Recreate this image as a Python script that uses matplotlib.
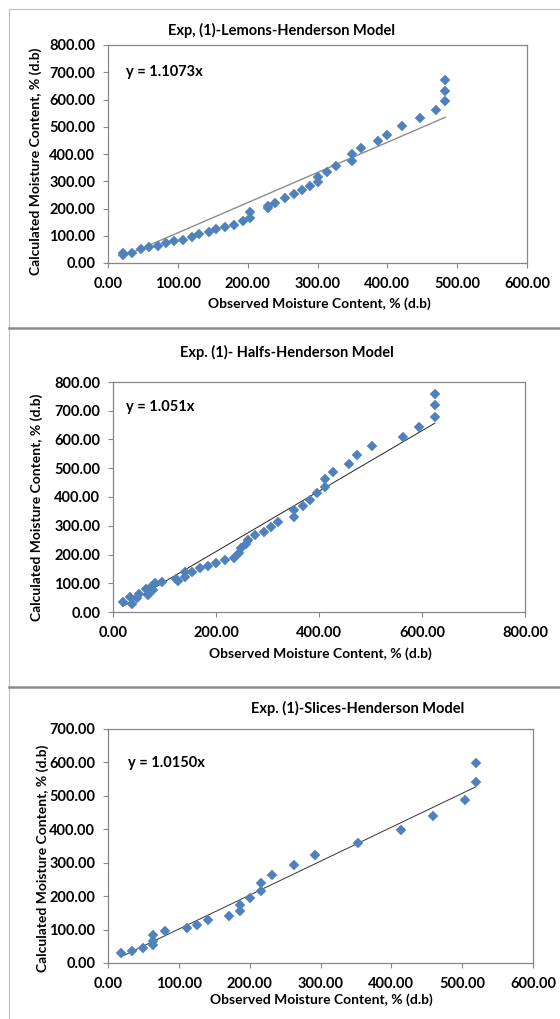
import matplotlib
matplotlib.use("Agg")
import matplotlib.pyplot as plt
from matplotlib.ticker import FormatStrFormatter, MultipleLocator
from matplotlib.lines import Line2D

plt.rcParams['font.family'] = ['Lato', 'DejaVu Sans']
plt.rcParams['font.weight'] = 'bold'

# Exp. (1) lemons
lemons_obs = [22, 22, 35, 47, 59, 71, 83, 95, 107, 120, 131, 144, 155, 168, 181, 193,
              204, 204, 229, 229, 239, 253, 266, 278, 289, 301, 301, 313, 326, 350, 350,
              362, 386, 399, 421, 447, 470, 483, 483, 483]
lemons_calc = [28, 38, 38, 50, 58, 64, 73, 80, 86, 96, 107, 115, 125, 131, 141, 153,
               165, 186, 201, 210, 222, 237, 252, 267, 283, 297, 317, 335, 356, 374, 400,
               422, 447, 471, 501, 532, 562, 595, 632, 671]
lemons_slope = 1.1073

# Exp. (1) halfs
halfs_obs = [19, 33, 36, 47, 50, 64, 67, 74, 78, 81, 95, 123, 126, 140, 140, 154, 168,
             185, 200, 217, 234, 244, 248, 258, 262, 276, 293, 307, 321, 352, 352, 368,
             383, 397, 412, 412, 428, 458, 474, 503, 564, 594, 625, 625, 625]
halfs_calc = [35, 52, 29, 47, 64, 81, 58, 87, 76, 101, 105, 116, 108, 122, 140, 140, 153,
              159, 171, 180, 188, 206, 221, 238, 252, 267, 279, 297, 312, 331, 355, 369,
              390, 413, 436, 462, 488, 515, 547, 576, 608, 643, 678, 719, 759]
halfs_slope = 1.051

# Exp. (1) slices
slices_obs = [19, 34, 49, 64, 64, 64, 80, 111, 126, 141, 171, 186, 186, 201, 216, 216,
              232, 262, 292, 353, 414, 459, 504, 519, 519]
slices_calc = [30, 37, 45, 53, 67, 85, 95, 105, 115, 128, 142, 157, 175, 193, 215, 238,
               263, 292, 323, 359, 398, 440, 489, 541, 599]
slices_slope = 1.0150

W, H = 560, 1019
fig = plt.figure(figsize=(W / 100, H / 100), dpi=100)


def px(x, y):
    return x / W, 1 - y / H


panels = [
    dict(obs=lemons_obs, calc=lemons_calc, k=lemons_slope, eq='y = 1.1073x',
         title='Exp, (1)-Lemons-Henderson Model', box=(108, 45, 527, 263),
         xmax=600, xstep=100, ymax=800, ystep=100, lc='#8c8c8c', lw=1.0,
         tpos=(282, 30), eqpos=(126, 72), ylpos=(36, 161), xlpos=(319, 304)),
    dict(obs=halfs_obs, calc=halfs_calc, k=halfs_slope, eq='y = 1.051x',
         title='Exp. (1)- Halfs-Henderson Model', box=(113, 382, 525, 612),
         xmax=800, xstep=200, ymax=800, ystep=100, lc='#222222', lw=0.7,
         tpos=(287, 352), eqpos=(126, 407), ylpos=(37, 507), xlpos=(320, 654)),
    dict(obs=slices_obs, calc=slices_calc, k=slices_slope, eq='y = 1.0150x',
         title='Exp. (1)-Slices-Henderson Model', box=(108, 729, 533, 963),
         xmax=600, xstep=100, ymax=700, ystep=100, lc='#333333', lw=0.7,
         tpos=(358, 708), eqpos=(128, 763), ylpos=(43, 858), xlpos=(321, 1000)),
]

for p in panels:
    x0, y0, x1, y1 = p['box']
    ax = fig.add_axes([x0 / W, 1 - y1 / H, (x1 - x0) / W, (y1 - y0) / H])
    ax.plot(p['obs'], p['calc'], 'D', color='#4f81bd', ms=5, mec='#4f81bd', mew=0.3, zorder=3)
    xs = [min(p['obs']), max(p['obs'])]
    ax.plot(xs, [p['k'] * v for v in xs], color=p['lc'], lw=p['lw'], zorder=2)
    ax.set_xlim(0, p['xmax'])
    ax.set_ylim(0, p['ymax'])
    ax.xaxis.set_major_locator(MultipleLocator(p['xstep']))
    ax.yaxis.set_major_locator(MultipleLocator(p['ystep']))
    ax.xaxis.set_major_formatter(FormatStrFormatter('%.2f'))
    ax.yaxis.set_major_formatter(FormatStrFormatter('%.2f'))
    for s in ax.spines.values():
        s.set_color('#868686')
        s.set_linewidth(0.9)
    ax.tick_params(direction='out', length=3.6, width=0.8, color='#868686',
                   labelsize=10.5, labelcolor='black')
    ax.tick_params(axis='x', pad=6.5)
    ax.tick_params(axis='y', pad=5.5)
    for lab in ax.get_xticklabels() + ax.get_yticklabels():
        lab.set_fontweight('bold')

    fig.text(*px(*p['tpos']), p['title'], ha='center', va='center', fontsize=10.5, fontweight='bold')
    fig.text(*px(*p['eqpos']), p['eq'], ha='left', va='center', fontsize=10.5, fontweight='bold')
    fig.text(*px(*p['ylpos']), 'Calculated Moisture Content, % (d.b)', ha='center', va='center',
             rotation=90, fontsize=10, fontweight='bold')
    fig.text(*px(*p['xlpos']), 'Observed Moisture Content, % (d.b)', ha='center', va='center',
             fontsize=10, fontweight='bold')

# panel frames
fig.add_artist(Line2D([9 / W, 1], [1 - 9 / H, 1 - 9 / H], color='#bfbfbf', lw=0.8))
fig.add_artist(Line2D([9 / W, 9 / W], [0, 1 - 9 / H], color='#bfbfbf', lw=0.8))
for yy in (328, 687):
    fig.add_artist(Line2D([9 / W, 1], [1 - yy / H, 1 - yy / H], color='#8c8c8c', lw=1.8))

fig.savefig('out.png', dpi=100)
